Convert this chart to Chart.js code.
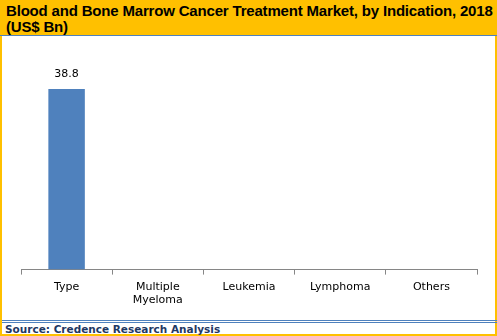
<!DOCTYPE html>
<html>
<head>
<meta charset="utf-8">
<script src="https://cdn.jsdelivr.net/npm/chart.js@4"></script>
<style>
  html, body { margin: 0; padding: 0; background: #fff; }
  #frame { position: relative; width: 497px; height: 336px; overflow: hidden; background: #fff; }
  #title {
    position: absolute; left: 0; top: 0; width: 497px; height: 36px;
    background: #ffc000; border-bottom: 1px solid #4f81bd; box-sizing: border-box;
    font: bold 15px "Liberation Sans", Arial, sans-serif; line-height: 16px;
    letter-spacing: -0.18px; white-space: nowrap;
    color: #000; padding: 3px 0 0 6px;
  }
  #side { position: absolute; left: 0; top: 36px; width: 497px; height: 300px;
    border: 2px solid #ffc000; border-top: none; box-sizing: border-box; }
  #chartBox { position: absolute; left: 2px; top: 37px; width: 493px; height: 283px; }
  #footer {
    position: absolute; left: 2px; top: 320px; width: 493px; height: 14px;
    border-top: 3px double #4f81bd; box-sizing: content-box;
    font: bold 10.5px "DejaVu Sans", Verdana, sans-serif; color: #1f3864;
    padding-left: 3px; line-height: 13px;
  }
</style>
</head>
<body>
<div id="frame">
  <div id="title">Blood and Bone Marrow Cancer Treatment Market, by Indication, 2018<br>(US$ Bn)</div>
  <div id="side"></div>
  <div id="chartBox"><canvas id="chart"></canvas></div>
  <div id="footer">Source: Credence Research Analysis</div>
</div>
<script>
const categories = ["Type", ["Multiple", "Myeloma"], "Leukemia", "Lymphoma", "Others"];
const values = [38.8, null, null, null, null];

const valueLabels = {
  id: "valueLabels",
  afterDatasetsDraw(chart) {
    const ctx = chart.ctx;
    const meta = chart.getDatasetMeta(0);
    ctx.save();
    ctx.font = '11px "DejaVu Sans", Verdana, sans-serif';
    ctx.fillStyle = "#000";
    ctx.textAlign = "center";
    ctx.textBaseline = "bottom";
    meta.data.forEach((bar, i) => {
      if (values[i] == null) return;
      ctx.fillText(values[i].toFixed(1), bar.x, bar.y - 9);
    });
    ctx.restore();
  }
};

new Chart(document.getElementById("chart"), {
  type: "bar",
  data: {
    labels: categories,
    datasets: [{
      data: values,
      backgroundColor: "#4f81bd",
      categoryPercentage: 1,
      barPercentage: 0.4
    }]
  },
  options: {
    responsive: true,
    maintainAspectRatio: false,
    animation: false,
    layout: { padding: { left: 19, right: 18, top: 13, bottom: 7 } },
    plugins: { legend: { display: false }, tooltip: { enabled: false } },
    scales: {
      x: {
        grid: { drawOnChartArea: false, color: "#868686", tickLength: 5, offset: true },
        border: { color: "#868686" },
        ticks: {
          color: "#000",
          font: { family: '"DejaVu Sans", Verdana, sans-serif', size: 11 },
          maxRotation: 0,
          autoSkip: false,
          padding: 6
        }
      },
      y: { display: false, min: 0, max: 47.2 }
    }
  },
  plugins: [valueLabels]
});
</script>
</body>
</html>
